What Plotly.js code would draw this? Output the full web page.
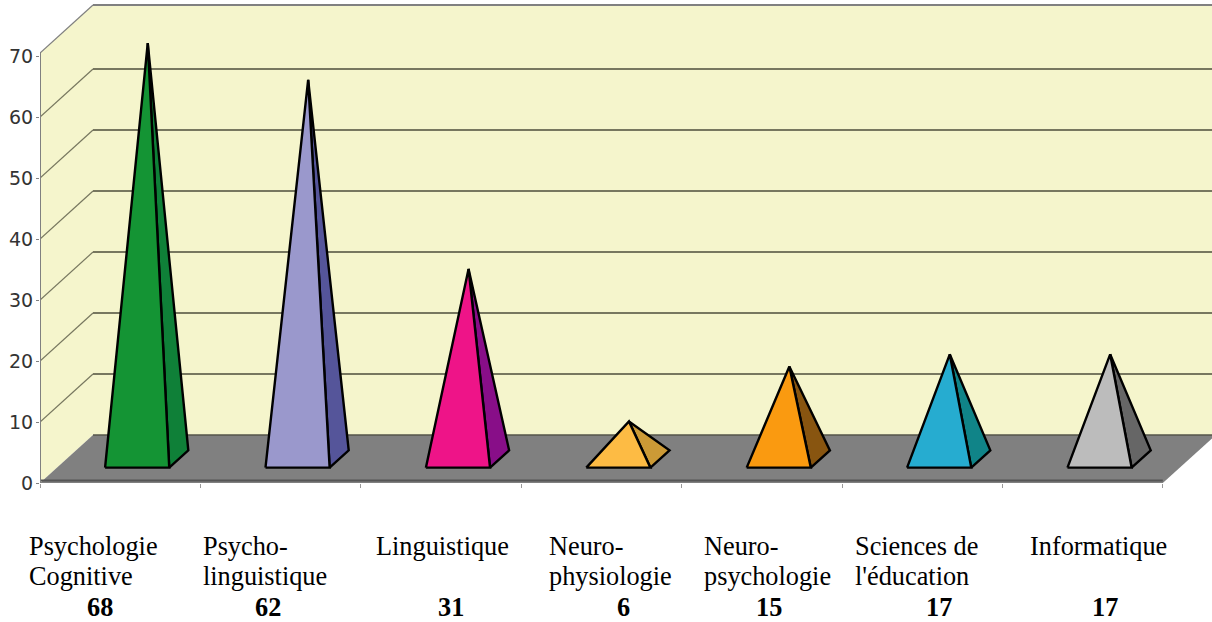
<!DOCTYPE html>
<html><head><meta charset="utf-8">
<script src="https://cdn.plot.ly/plotly-3.0.1.min.js"></script>
<style>html,body{margin:0;padding:0;background:#fff}</style></head>
<body><div id="chart" style="width:1212px;height:622px"></div>
<script>
const categories = ["Psychologie\nCognitive","Psycho-\nlinguistique","Linguistique","Neuro-\nphysiologie","Neuro-\npsychologie","Sciences de\nl'éducation","Informatique"];
const values = [68,62,31,6,15,17,17];
const frontColors = ["#149434","#9A98CC","#EE1488","#FDBB44","#FA9A10","#26ACD0","#BCBCBC"];
const sideColors = ["#0F8038","#55559A","#880E88","#CC9A36","#885510","#108488","#666666"];
const yTicks = [0,10,20,30,40,50,60,70];
const labelLeft = [28,202,375,548,703,854,1029];
const valueCenter = [100,268,451,623,769,939,1105];

// plot frame in pixels
const W=1212,H=622,L=40,B=139;
const unitX=160.4, unitY=6.1;
const plotW=W-L, plotH=H-B;
const nCat=categories.length;
// oblique depth of the 3D box, expressed in axis units
const depthX=53/unitX, depthY=48/unitY;
const P=(x,y,d)=>[x+d*depthX, y+d*depthY];
const WALL_TOP=70.5;

function poly(pts,fill,lineColor,lineWidth){
  const c=pts.concat([pts[0]]);
  return {x:c.map(p=>p[0]),y:c.map(p=>p[1]),mode:'lines',fill:'toself',fillcolor:fill,
    line:{color:lineColor||fill,width:lineWidth===undefined?0:lineWidth,join:'miter'},
    hoverinfo:'skip',showlegend:false,type:'scatter'};
}
function seg(a,b,color,width,noClip){
  return {x:[a[0],b[0]],y:[a[1],b[1]],mode:'lines',line:{color:color,width:width},hoverinfo:'skip',showlegend:false,type:'scatter',cliponaxis:!noClip};
}
const traces=[];
const wall="#F5F5CC";
// back and side walls
traces.push(poly([P(0,0,0),P(0,WALL_TOP,0),P(0,WALL_TOP,1),P(0,0,1)],wall));
traces.push(poly([P(0,0,1),P(0,WALL_TOP,1),P(nCat,WALL_TOP,1),P(nCat,0,1)],wall));
yTicks.forEach(v=>{
  if(v>0 && v<70){
    traces.push(seg(P(0,v,0),P(0,v,1),"#77775f",1.2));
    traces.push(seg(P(0,v,1),P(nCat,v,1),"#77775f",1.8));
  }
});
traces.push(seg(P(0,WALL_TOP,0),P(0,WALL_TOP,1),"#808080",1.2));
traces.push(seg(P(0,WALL_TOP,1),P(nCat,WALL_TOP,1),"#808080",2));
// floor
traces.push(poly([P(0,0,0),P(nCat,0,0),P(nCat,0,1),P(0,0,1)],"#808080"));
traces.push(seg(P(0,0,1),P(nCat,0,1),"#55554a",1.5));
traces.push(seg(P(0,0.4,0),P(nCat,0.4,0),"#555555",2));
// axis lines, ending where the box ends
traces.push(seg([0,0],[0,WALL_TOP],"#808080",2,true));
traces.push(seg([0,0],[nCat,0],"#808080",2,true));
// pyramids
const dFront=0.32,dBack=0.68,dMid=0.52,halfW=0.2;
values.forEach((v,i)=>{
  const u=i+0.5;
  const fl=P(u-halfW,0,dFront), fr=P(u+halfW,0,dFront), br=P(u+halfW,0,dBack), apex=P(u,v,dMid);
  traces.push(poly([fr,br,apex],sideColors[i],"#000",2.4));
  traces.push(poly([fl,fr,apex],frontColors[i],"#000",2.4));
});
const fx=px=>(px-L)/plotW, fy=py=>(plotH-py)/plotH;
const textFont={family:"'Liberation Serif',serif",size:26.3,color:"#000"};
const ann=[];
categories.forEach((c,i)=>{
  c.split("\n").forEach((line,j)=>{
    ann.push({xref:'paper',yref:'paper',x:fx(labelLeft[i]),y:fy(546+j*30),text:line,showarrow:false,
      xanchor:'left',yanchor:'middle',borderpad:0,font:textFont});
  });
  ann.push({xref:'paper',yref:'paper',x:fx(valueCenter[i]),y:fy(607),text:'<b>'+values[i]+'</b>',showarrow:false,
    xanchor:'center',yanchor:'middle',borderpad:0,font:textFont});
});
const layout={width:W,height:H,margin:{l:L,r:0,t:0,b:B,pad:0},paper_bgcolor:'#fff',plot_bgcolor:'#fff',showlegend:false,
  xaxis:{range:[0,plotW/unitX],tickmode:'array',tickvals:categories.map((c,i)=>i).concat([nCat]),showticklabels:false,
    ticks:'outside',ticklen:4,tickcolor:'#999',tickwidth:1,showgrid:false,zeroline:false,showline:false,fixedrange:true},
  yaxis:{range:[0,plotH/unitY],tickmode:'array',tickvals:yTicks,ticktext:yTicks.map(String),
    ticks:'outside',ticklen:3,tickcolor:'#808080',tickwidth:1,showgrid:false,zeroline:false,showline:false,ticklabelstandoff:-1,
    tickfont:{family:"'DejaVu Sans',sans-serif",size:19,color:'#333'},fixedrange:true},
  annotations:ann};
Plotly.newPlot('chart',traces,layout,{displayModeBar:false,staticPlot:true});
</script></body></html>
